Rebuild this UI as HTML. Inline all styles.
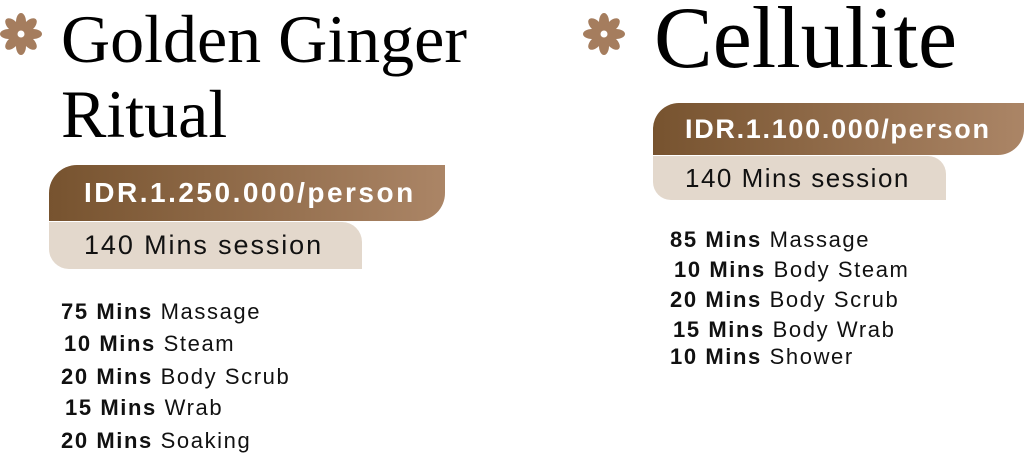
<!DOCTYPE html>
<html><head><meta charset="utf-8"><style>
body{margin:0;width:1024px;height:457px;background:#fff;position:relative;overflow:hidden;font-family:"Liberation Sans",sans-serif;color:#111}
.a{position:absolute;white-space:nowrap}
.t{font-family:"Liberation Serif",serif;color:#000;line-height:1}
.dark{position:absolute;background:linear-gradient(90deg,#77532f,#ab8566);color:#fff;font-weight:bold}
.light{position:absolute;background:#e3d8cc;color:#111}
.li{position:absolute;font-size:22px;letter-spacing:1.6px;line-height:1;white-space:nowrap}
.li b{font-weight:bold}
</style></head><body>
<svg class="a" style="left:0;top:13px" width="42" height="42" viewBox="-21 -21 42 42">
<g fill="#a57d5e">
<ellipse cx="0" cy="-12" rx="5" ry="9"/><ellipse cx="0" cy="-12" rx="5" ry="9" transform="rotate(45)"/><ellipse cx="0" cy="-12" rx="5" ry="9" transform="rotate(90)"/><ellipse cx="0" cy="-12" rx="5" ry="9" transform="rotate(135)"/><ellipse cx="0" cy="-12" rx="5" ry="9" transform="rotate(180)"/><ellipse cx="0" cy="-12" rx="5" ry="9" transform="rotate(225)"/><ellipse cx="0" cy="-12" rx="5" ry="9" transform="rotate(270)"/><ellipse cx="0" cy="-12" rx="5" ry="9" transform="rotate(315)"/>
<circle r="9"/></g><circle r="3.5" fill="#fff"/></svg>
<svg class="a" style="left:583px;top:13px" width="42" height="42" viewBox="-21 -21 42 42">
<g fill="#a57d5e">
<ellipse cx="0" cy="-12" rx="5" ry="9"/><ellipse cx="0" cy="-12" rx="5" ry="9" transform="rotate(45)"/><ellipse cx="0" cy="-12" rx="5" ry="9" transform="rotate(90)"/><ellipse cx="0" cy="-12" rx="5" ry="9" transform="rotate(135)"/><ellipse cx="0" cy="-12" rx="5" ry="9" transform="rotate(180)"/><ellipse cx="0" cy="-12" rx="5" ry="9" transform="rotate(225)"/><ellipse cx="0" cy="-12" rx="5" ry="9" transform="rotate(270)"/><ellipse cx="0" cy="-12" rx="5" ry="9" transform="rotate(315)"/>
<circle r="9"/></g><circle r="3.5" fill="#fff"/></svg>

<div class="a t" style="left:61px;top:5px;font-size:68px">Golden Ginger</div>
<div class="a t" style="left:61px;top:80px;font-size:68px">Ritual</div>
<div class="a t" style="left:654px;top:-5px;font-size:88px">Cellulite</div>

<div class="dark" style="left:49px;top:165px;width:396px;height:56px;border-radius:28px 0 28px 0"><span class="a" style="left:35px;top:12px;font-size:28px;letter-spacing:2.5px">IDR.1.250.000/person</span></div>
<div class="light" style="left:49px;top:222px;width:313px;height:47px;border-radius:0 20px 0 20px"><span class="a" style="left:35px;top:8px;font-size:27px;letter-spacing:1.9px">140 Mins session</span></div>

<div class="dark" style="left:653px;top:103px;width:371px;height:52px;border-radius:26px 0 26px 0"><span class="a" style="left:32px;top:11px;font-size:27px;letter-spacing:1.7px">IDR.1.100.000/person</span></div>
<div class="light" style="left:653px;top:156px;width:293px;height:44px;border-radius:0 18px 0 18px"><span class="a" style="left:32px;top:7px;font-size:26px;letter-spacing:1.5px">140 Mins session</span></div>

<div class="li" style="left:61px;top:301px"><b>75 Mins</b> Massage</div>
<div class="li" style="left:64px;top:333px"><b>10 Mins</b> Steam</div>
<div class="li" style="left:61px;top:366px"><b>20 Mins</b> Body Scrub</div>
<div class="li" style="left:65px;top:397px"><b>15 Mins</b> Wrab</div>
<div class="li" style="left:61px;top:430px"><b>20 Mins</b> Soaking</div>

<div class="li" style="left:670px;top:229px"><b>85 Mins</b> Massage</div>
<div class="li" style="left:674px;top:259px"><b>10 Mins</b> Body Steam</div>
<div class="li" style="left:670px;top:289px"><b>20 Mins</b> Body Scrub</div>
<div class="li" style="left:673px;top:319px"><b>15 Mins</b> Body Wrab</div>
<div class="li" style="left:670px;top:346px"><b>10 Mins</b> Shower</div>
</body></html>
